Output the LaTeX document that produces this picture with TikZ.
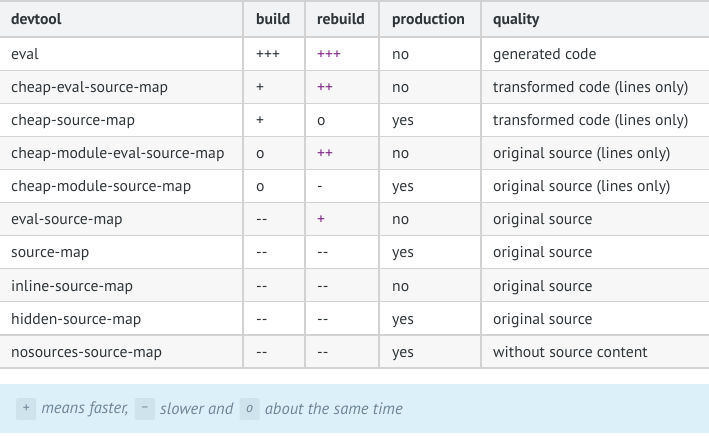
\documentclass[tikz,border=0pt]{standalone}
\usepackage{fontspec}
\setmainfont{PT Sans}
\usetikzlibrary{positioning}

\definecolor{ink}{HTML}{2F3539}
\definecolor{rule}{HTML}{D2D2D2}
\definecolor{headbg}{HTML}{F1F3F4}
\definecolor{stripe}{HTML}{F7F7F7}
\definecolor{faster}{HTML}{7F2A85}
\definecolor{notebg}{HTML}{DCF0FA}
\definecolor{chipbg}{HTML}{CFE3EC}
\definecolor{noteink}{HTML}{6E8796}

\begin{document}
\begin{tikzpicture}[x=1pt, y=-1pt
    , cell/.style = {anchor=base west, inner sep=0pt, text=ink, font=\fontsize{15.7}{18}\selectfont}
    , head/.style = {cell, font=\fontsize{15.7}{18}\selectfont\bfseries}
    , chip/.style = {fill=chipbg, rounded corners=1.5pt, minimum width=20pt, minimum height=22pt, inner sep=0pt, text=noteink, font=\fontsize{14}{16}\selectfont\itshape}
    , note/.style = {inner sep=0pt, text=noteink, font=\fontsize{16.5}{19}\selectfont\itshape}
]
\useasboundingbox (0,0) rectangle (709,436);
% header band and striped rows
\fill[headbg] (0,1) rectangle (709,37);
\foreach \j in {2,4,...,10}
    \fill[stripe] (0,3.9+33.1*\j) rectangle (709,37+33.1*\j);
% grid
\foreach \y in {1,37,70.1,103.2,136.3,169.4,202.5,235.6,268.7,301.8,334.9,368}
    \draw[rule, line width=1.2pt] (0,\y) -- (709,\y);
\foreach \x in {243,305,379,481}
    \draw[rule, line width=1.2pt] (\x,1) -- (\x,368);
% header
\node[head] (h-tool) at (11,25) {devtool};
\node[head] (h-build) at (256,25) {build};
\node[head] (h-rebuild) at (317,25) {rebuild};
\node[head] (h-prod) at (392,25) {production};
\node[head] (h-quality) at (493,25) {quality};
% rows
\foreach \tool/\build/\rebuild/\rc/\prod/\quality [count=\j] in {
    eval/+++/+++/faster/no/generated code,
    cheap-eval-source-map/+/++/faster/no/transformed code (lines only),
    cheap-source-map/+/o/ink/yes/transformed code (lines only),
    cheap-module-eval-source-map/o/++/faster/no/original source (lines only),
    cheap-module-source-map/o/-/ink/yes/original source (lines only),
    eval-source-map/-{}-/+/faster/no/original source,
    source-map/-{}-/-{}-/ink/yes/original source,
    inline-source-map/-{}-/-{}-/ink/no/original source,
    hidden-source-map/-{}-/-{}-/ink/yes/original source,
    nosources-source-map/-{}-/-{}-/ink/yes/without source content}
{
    \node[cell] (tool-\j) at (11,26.25+33.1*\j) {\tool};
    \node[cell] (build-\j) at (256,26.25+33.1*\j) {\build};
    \node[cell, text=\rc] (rebuild-\j) at (317,26.25+33.1*\j) {\rebuild};
    \node[cell] (prod-\j) at (392,26.25+33.1*\j) {\prod};
    \node[cell] (quality-\j) at (493,26.25+33.1*\j) {\quality};
}
% legend
\fill[notebg] (0,384) rectangle (709,433);
\node[chip] (plus) at (26,409) {+};
\node[note, right=5pt of plus] (means-faster) {means faster,};
\node[chip, right=6pt of means-faster] (minus) {--};
\node[note, right=5pt of minus] (slower) {slower and};
\node[chip, right=6pt of slower] (same) {o};
\node[note, right=5pt of same] (same-time) {about the same time};
\end{tikzpicture}
\end{document}
